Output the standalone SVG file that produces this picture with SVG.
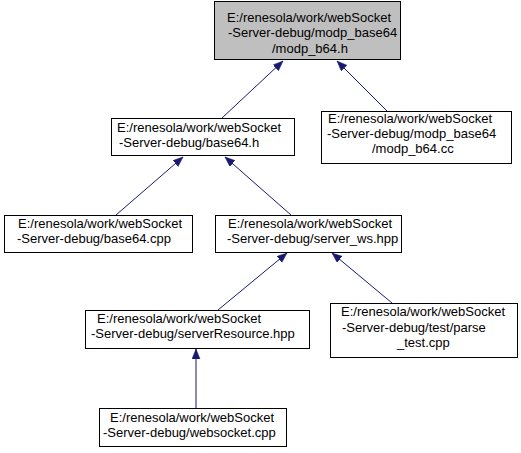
<svg xmlns="http://www.w3.org/2000/svg" width="521" height="453" viewBox="0 0 521 453">
<style>
.box{fill:#ffffff;stroke:#000000;stroke-width:1}
.root{fill:#bfbfbf;stroke:#000000;stroke-width:1}
text{font-family:"Liberation Sans",Arial,sans-serif;font-size:13px;fill:#000000}
.edge{stroke:#191970;stroke-width:1;fill:none;marker-end:url(#arr)}
</style>
<defs>
<marker id="arr" markerUnits="userSpaceOnUse" markerWidth="11" markerHeight="9" refX="10" refY="4" orient="auto">
<path d="M0,0 L10,4 L0,8 z" fill="#191970" stroke="#191970" stroke-width="0.5"/>
</marker>
</defs>
<rect width="521" height="453" fill="#ffffff"/>
<g id="connectors">
<line class="edge" x1="222" y1="118" x2="283" y2="61"/>
<line class="edge" x1="387" y1="111" x2="337" y2="61"/>
<line class="edge" x1="116" y1="215" x2="183" y2="157"/>
<line class="edge" x1="291" y1="215" x2="225" y2="157"/>
<line class="edge" x1="218" y1="310" x2="287" y2="253"/>
<line class="edge" x1="392" y1="303" x2="332" y2="253"/>
<line class="edge" x1="196" y1="408" x2="196" y2="349"/>
</g>
<g id="modp_b64_h">
<rect class="root" x="214.5" y="1.5" width="186" height="58"/>
<text x="227" y="21.5">E:/renesola/work/webSocket</text>
<text x="228" y="37">-Server-debug/modp_base64</text>
<text x="272" y="52.5">/modp_b64.h</text>
</g>
<g id="base64_h">
<rect class="box" x="111.5" y="118.5" width="183" height="37"/>
<text x="117" y="132">E:/renesola/work/webSocket</text>
<text x="119" y="147">-Server-debug/base64.h</text>
</g>
<g id="modp_b64_cc">
<rect class="box" x="321.5" y="111.5" width="190" height="52"/>
<text x="328" y="122.5">E:/renesola/work/webSocket</text>
<text x="327" y="138">-Server-debug/modp_base64</text>
<text x="372" y="153">/modp_b64.cc</text>
</g>
<g id="base64_cpp">
<rect class="box" x="4.5" y="215.5" width="188" height="37"/>
<text x="18" y="228">E:/renesola/work/webSocket</text>
<text x="17" y="243">-Server-debug/base64.cpp</text>
</g>
<g id="server_ws_hpp">
<rect class="box" x="215.5" y="215.5" width="186" height="37"/>
<text x="228" y="228">E:/renesola/work/webSocket</text>
<text x="227" y="243">-Server-debug/server_ws.hpp</text>
</g>
<g id="serverResource_hpp">
<rect class="box" x="85.5" y="310.5" width="224" height="38"/>
<text x="97" y="322.5">E:/renesola/work/webSocket</text>
<text x="91" y="337.5">-Server-debug/serverResource.hpp</text>
</g>
<g id="parse_test_cpp">
<rect class="box" x="330.5" y="303.5" width="187" height="54"/>
<text x="341" y="316">E:/renesola/work/webSocket</text>
<text x="342" y="332">-Server-debug/test/parse</text>
<text x="397" y="347">_test.cpp</text>
</g>
<g id="websocket_cpp">
<rect class="box" x="99.5" y="408.5" width="187" height="38"/>
<text x="110" y="422">E:/renesola/work/webSocket</text>
<text x="103" y="437">-Server-debug/websocket.cpp</text>
</g>
</svg>
